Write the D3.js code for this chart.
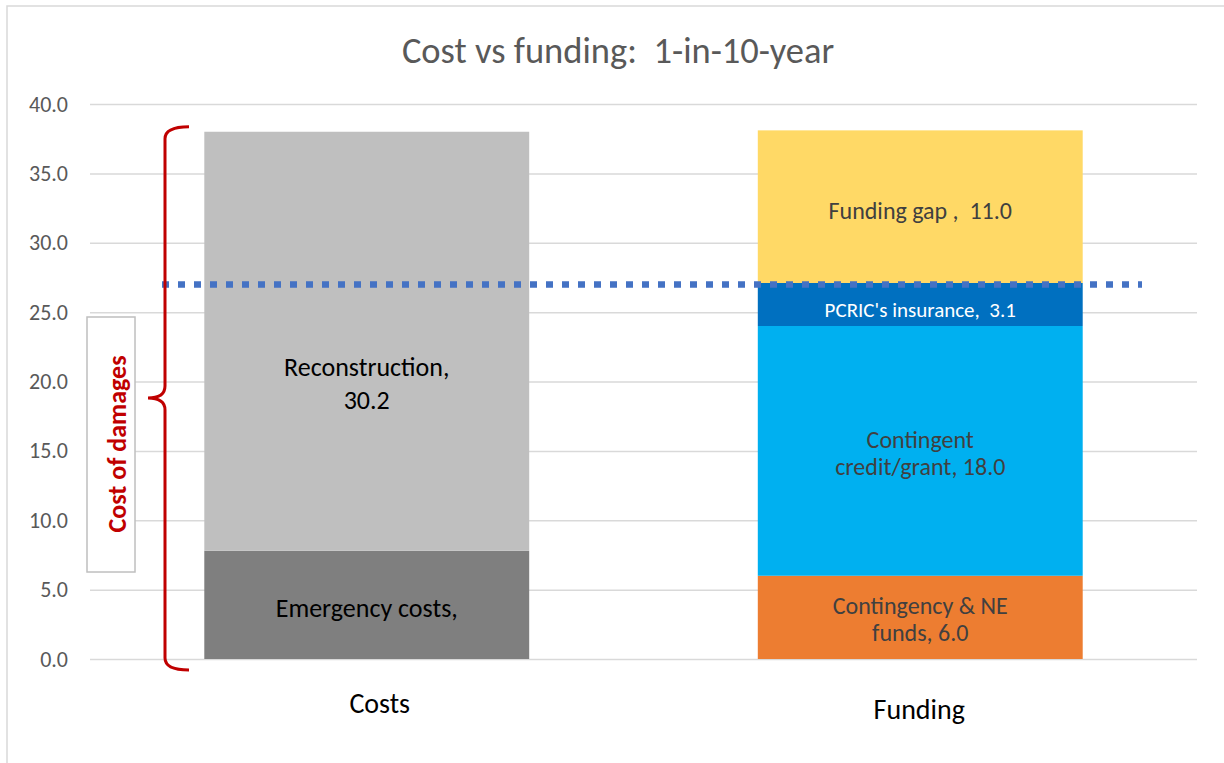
<!DOCTYPE html>
<html>
<head>
<meta charset="utf-8">
<script src="https://cdn.jsdelivr.net/npm/d3@7"></script>
<style>
  body { margin: 0; background: #fff; }
  text { font-family: Carlito, Lato, "Open Sans", sans-serif; white-space: pre; }
</style>
</head>
<body>
<svg id="chart" width="1224" height="763"></svg>
<script>
// data
var categories = ['Costs', 'Funding'];
var costNames = ['Emergency costs', 'Reconstruction'];
var costValues = [7.8, 30.2];
var costLabels = [['Emergency costs,'], ['Reconstruction,', '30.2']];
var fundNames = ['Contingency & NE funds', 'Contingent credit/grant', "PCRIC's insurance", 'Funding gap'];
var fundValues = [6.0, 18.0, 3.1, 11.0];
var fundLabels = [['Contingency & NE', 'funds, 6.0'], ['Contingent', 'credit/grant, 18.0'], ["PCRIC's insurance,  3.1"], ['Funding gap ,  11.0']];
var yTicks = [0, 5, 10, 15, 20, 25, 30, 35, 40];
var thresholdValue = 27.1;

var costColors = ['#7f7f7f', '#bfbfbf'];
var fundColors = ['#ed7d31', '#00b0f0', '#0070c0', '#ffd966'];
var fundText = ['#404040', '#404040', '#ffffff', '#404040'];

var svg = d3.select('#chart');

svg.append('rect')
    .attr('x', 7).attr('y', 6)
    .attr('width', 1240).attr('height', 800)
    .style('fill', '#fff')
    .style('stroke', '#d9d9d9')
    .style('stroke-width', 1.5);

var x = d3.scaleBand().domain(categories).range([90, 1197])
    .paddingInner(0.413).paddingOuter(0.2065);
var y = d3.scaleLinear().domain([0, 40]).range([659, 104]);

// title
svg.append('text')
    .attr('x', 618).attr('y', 63)
    .attr('text-anchor', 'middle')
    .style('font-size', '36.5px')
    .style('fill', '#595959')
    .text('Cost vs funding:  1-in-10-year');

// gridlines + tick labels
var yAxis = d3.axisLeft(y).tickValues(yTicks)
    .tickFormat(d3.format('.1f'))
    .tickSize(-(1197 - 90)).tickPadding(22);
var gy = svg.append('g').attr('transform', 'translate(90,0)').call(yAxis);
gy.select('.domain').remove();
gy.selectAll('.tick line').style('stroke', '#d9d9d9').style('stroke-width', 1.5);
gy.selectAll('.tick text').style('font-size', '22px').style('fill', '#595959')
    .style('font-family', 'Carlito, Lato, "Open Sans", sans-serif');

function stack(values) {
  var acc = 0;
  return values.map(function(v, i) {
    var seg = {y0: acc, y1: acc + v, i: i};
    acc += v;
    return seg;
  });
}

function drawBar(cat, segs, colors, labels, textColors, sizes, lh, shifts) {
  var g = svg.append('g');
  g.selectAll('rect').data(segs).enter().append('rect')
      .attr('x', x(cat))
      .attr('width', x.bandwidth())
      .attr('y', function(d) { return y(d.y1); })
      .attr('height', function(d) { return y(d.y0) - y(d.y1); })
      .style('fill', function(d) { return colors[d.i]; });

  g.selectAll('text.seg').data(segs).enter().append('text')
      .attr('class', 'seg')
      .attr('text-anchor', 'middle')
      .style('font-size', function(d) { return sizes[d.i] + 'px'; })
      .style('fill', function(d) { return textColors[d.i]; })
      .each(function(d) {
        var lines = labels[d.i];
        var cy = (y(d.y0) + y(d.y1)) / 2 + shifts[d.i];
        var t = d3.select(this);
        lines.forEach(function(l, k) {
          t.append('tspan')
              .attr('x', x(cat) + x.bandwidth() / 2)
              .attr('y', cy + (k - (lines.length - 1) / 2) * lh + sizes[d.i] * 0.35)
              .text(l);
        });
      });
}

drawBar('Costs', stack(costValues), costColors, costLabels, ['#000', '#000'], [26, 26], 33, [3, 42]);
drawBar('Funding', stack(fundValues), fundColors, fundLabels, fundText, [24, 24, 21, 24], 27, [2, 2, 5, 4]);

// threshold dotted line
svg.append('line')
    .attr('x1', 162).attr('x2', 1142)
    .attr('y1', y(thresholdValue) + 1.5).attr('y2', y(thresholdValue) + 1.5)
    .style('stroke', '#4472c4')
    .style('stroke-width', 6.5)
    .style('stroke-dasharray', '7 9');

// category labels
var catOffsets = {Costs: [13, 713], Funding: [-1, 719]};
svg.selectAll('text.cat').data(categories).enter().append('text')
    .attr('class', 'cat')
    .attr('x', function(d) { return x(d) + x.bandwidth() / 2 + catOffsets[d][0]; })
    .attr('y', function(d) { return catOffsets[d][1]; })
    .attr('text-anchor', 'middle')
    .style('font-size', '28px')
    .style('fill', '#000')
    .text(function(d) { return d; });

// brace for cost of damages
var braceTop = y(d3.sum(costValues)) - 5, braceBot = y(0) + 11, braceMid = 398;
var bx = 165;
svg.append('path')
    .attr('d', 'M' + (bx + 24) + ',' + braceTop + ' Q' + bx + ',' + braceTop + ' ' + bx + ',' + (braceTop + 12) +
      ' L' + bx + ',' + (braceMid - 12) + ' Q' + bx + ',' + braceMid + ' ' + (bx - 17) + ',' + braceMid +
      ' Q' + bx + ',' + braceMid + ' ' + bx + ',' + (braceMid + 12) +
      ' L' + bx + ',' + (braceBot - 12) + ' Q' + bx + ',' + braceBot + ' ' + (bx + 24) + ',' + braceBot)
    .style('fill', 'none')
    .style('stroke', '#c00000')
    .style('stroke-width', 3);

svg.append('rect')
    .attr('x', 87).attr('y', 317)
    .attr('width', 48).attr('height', 255)
    .style('fill', '#fff')
    .style('stroke', '#bfbfbf')
    .style('stroke-width', 1.5);

svg.append('text')
    .attr('transform', 'translate(126,444) rotate(-90)')
    .attr('text-anchor', 'middle')
    .style('font-size', '26px')
    .style('font-weight', 'bold')
    .style('fill', '#c00000')
    .text('Cost of damages');
</script>
</body>
</html>
